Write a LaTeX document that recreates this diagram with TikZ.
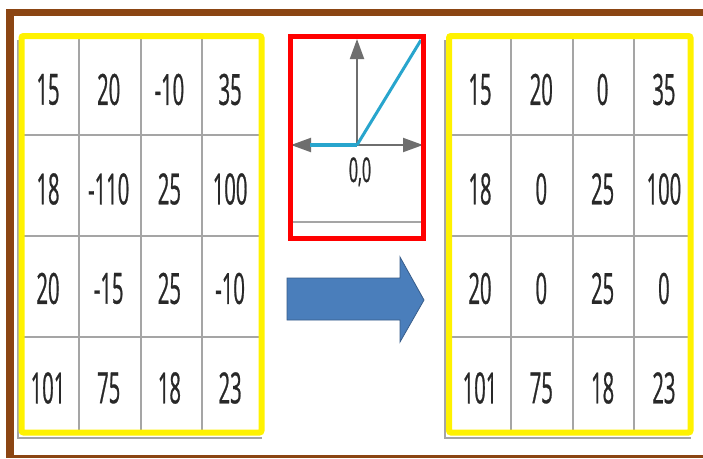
\documentclass[tikz,border=0pt]{standalone}
\usepackage{fontspec}
\setmainfont{Open Sans}[FakeStretch=0.47, FakeBold=0.6]
\usepackage{tikz}
\usetikzlibrary{arrows.meta, positioning}
\usepackage{xcolor}
\definecolor{FrameBrown}{RGB}{139, 69, 19}
\definecolor{GridGray}{RGB}{165, 165, 165}
\definecolor{AxisGray}{RGB}{110, 110, 110}
\definecolor{ReluBlue}{RGB}{40, 165, 205}
\definecolor{ArrowBlue}{RGB}{74, 126, 187}
\definecolor{ArrowEdge}{RGB}{56, 93, 138}
\definecolor{CellText}{RGB}{40, 40, 40}

\begin{document}
\begin{tikzpicture}[x=1pt, y=-1pt,
    cell/.style={text=CellText, font=\fontsize{43}{44}\selectfont, inner sep=0pt},
    gridline/.style={GridGray, line width=2pt},
    border/.style={yellow, line width=6pt, rounded corners=2pt},
    axis/.style={AxisGray, line width=2pt, -{Triangle[length=20pt, width=14pt]}}]
\fill[white] (0,0) rectangle (703,458);
% frame
\fill[FrameBrown] (6,9) rectangle (703,16);
\fill[FrameBrown] (6,9) rectangle (14,458);
\fill[FrameBrown] (6,454.5) rectangle (703,458);

% tables
\foreach \xa/\xb/\xc/\xd/\xe in {21.5/79/141/202/261.5, 449/511/573/634/690.5} {
    \draw[gridline] (\xa-4,40) -- (\xa-4,437.5) -- (\xe,437.5);
    \foreach \x in {\xb,\xc,\xd}
        \draw[gridline] (\x,36) -- (\x,432.5);
    \foreach \y in {135,236,337}
        \draw[gridline] (\xa,\y) -- (\xe,\y);
    \draw[border] (\xa,36) rectangle (\xe,432.5);
}
\foreach \row [count=\r] in {{15,20,-10,35},{18,-110,25,100},{20,-15,25,-10},{101,75,18,23}} {
    \foreach \v [count=\c] in \row
        \node[cell] (in-\r-\c) at ({48+60.7*(\c-1)}, {89.5+99.5*(\r-1)}) {\v};
}
\foreach \row [count=\r] in {{15,20,0,35},{18,0,25,100},{20,0,25,0},{101,75,18,23}} {
    \foreach \v [count=\c] in \row
        \node[cell] (out-\r-\c) at ({480+61.3*(\c-1)}, {89.5+99.5*(\r-1)}) {\v};
}

% relu box
\coordinate (origin) at (357,145);
\coordinate (xleft) at (291,145);
\coordinate (xright) at (423,145);
\coordinate (ytop) at (357,39);
\coordinate (flat) at (310,145);
\coordinate (rise) at (421,40);
\draw[GridGray, line width=1.5pt] (290,222) -- (423,222);
\draw[axis] (origin) -- (ytop);
\draw[axis] (origin) -- (xleft);
\draw[axis] (origin) -- (xright);
\draw[ReluBlue, line width=4.5pt] (flat) -- (origin);
\draw[ReluBlue, line width=3pt] (origin) -- (rise);
\node[text=CellText, font=\fontsize{34}{35}\selectfont, inner sep=0pt, anchor=base] (zero) at (360,182) {0,0};
\draw[red, line width=5pt] (290,36.5) rectangle (423,238);

% big arrow
\draw[ArrowEdge, fill=ArrowBlue, line width=0.8pt]
    (287,278) -- (400,278) -- (400,257) -- (424,300) -- (400,342) -- (400,320) -- (287,320) -- cycle;
\end{tikzpicture}
\end{document}
